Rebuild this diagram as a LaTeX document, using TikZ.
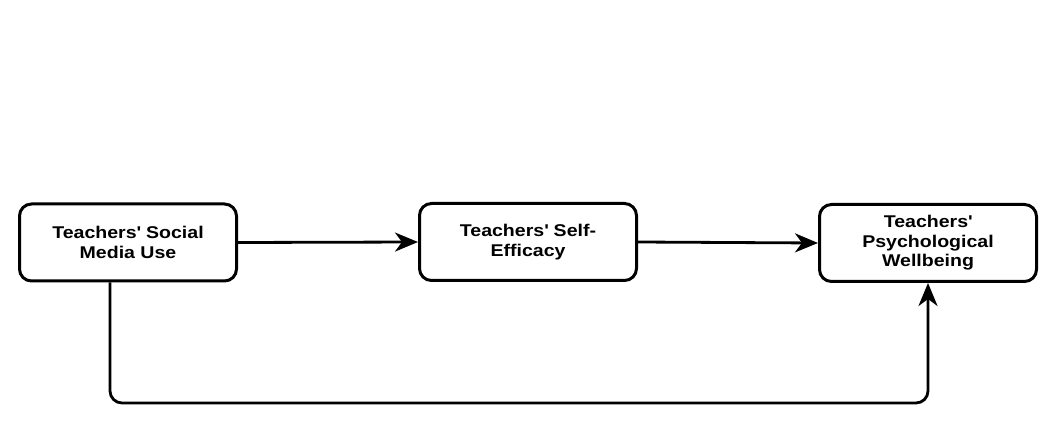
\documentclass[tikz,border=0pt]{standalone}
\usepackage{fontspec}
\setmainfont{Liberation Sans}[FakeStretch=1.15]
\usetikzlibrary{arrows.meta}
\begin{document}
\begin{tikzpicture}[x=1pt,y=-1pt,
  box/.style={draw,line width=3pt,rounded corners=12pt,minimum width=217pt,minimum height=77pt,align=center,font=\bfseries\fontsize{17}{19.5}\selectfont,inner sep=2pt},
  conn/.style={line width=2.8pt,-{Stealth[length=23pt,width=19pt,inset=7pt]}}]
\useasboundingbox (0,0) rectangle (1059,427);
\node[box] (a) at (128,242.5) {Teachers\textquotesingle{} Social\\Media Use};
\node[box] (b) at (528,242) {Teachers\textquotesingle{} Self-\\Efficacy};
\node[box] (c) at (928,243) {Teachers\textquotesingle\\Psychological\\Wellbeing};
\draw[conn] (a.east) -- (b.west);
\draw[conn] (b.east) -- (c.west);
\coordinate (p1) at (110,403);
\coordinate (p2) at (928,403);
\draw[conn,rounded corners=12pt] (a.south -| p1) -- (p1) -- (p2) -- (c.south);
\end{tikzpicture}
\end{document}
